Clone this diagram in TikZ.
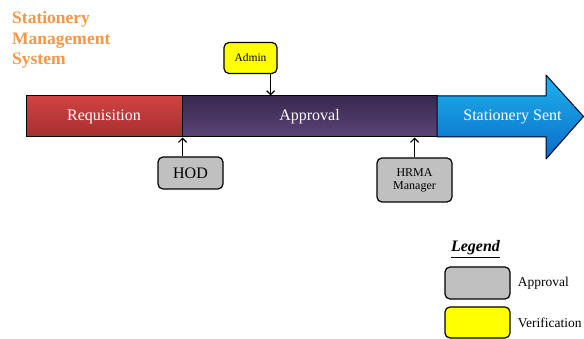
\documentclass[tikz,border=0pt]{standalone}
\usepackage{fontspec}
\setmainfont{Liberation Serif}
\usetikzlibrary{positioning,calc,arrows.meta}
\definecolor{titleorange}{HTML}{F79646}
\definecolor{reqtop}{HTML}{D24242}
\definecolor{reqbot}{HTML}{A52F2F}
\definecolor{apprtop}{HTML}{38284F}
\definecolor{apprbot}{HTML}{5C4478}
\definecolor{senttop}{HTML}{1EB2EE}
\definecolor{sentbot}{HTML}{0A6CC6}
\definecolor{rolegray}{HTML}{C0C0C0}
\definecolor{verifyellow}{HTML}{FFFF00}
\tikzset{
  stagebar/.style={draw=black, line width=1pt, minimum height=41pt, inner sep=0pt,
    text=white, font=\fontsize{16}{18}\selectfont},
  rolebox/.style={draw=black, line width=1.2pt, rounded corners=5pt, fill=rolegray,
    inner sep=0pt, align=center},
  feed/.style={-{Straight Barb[length=4pt,width=8pt,line width=1.2pt]}, line width=1.2pt},
}
\begin{document}
\begin{tikzpicture}[x=1pt,y=-1pt, line join=round]
	\def\ytop{96} \def\ybot{137} \def\ymid{116.5} % bar
	\useasboundingbox (0,0) rectangle (584,339);
	\node[anchor=north west, inner sep=0pt, align=left, text=titleorange,
	  font=\fontsize{17.5}{20.5}\selectfont\bfseries] (title) at (12,11.5) {Stationery\\Management\\System};
	% stages
	\node[stagebar, top color=reqtop, bottom color=reqbot, minimum width=156pt] (req) at (104,\ymid) {Requisition};
	\node[stagebar, top color=apprtop, bottom color=apprbot, minimum width=255pt] (appr) at (309.5,\ymid) {Approval};
	\draw[draw=black!85!blue, line width=1pt, top color=senttop, bottom color=sentbot]
	  (437,\ytop) -- (546,\ytop) -- (546,75) -- (583.5,\ymid) -- (546,159) -- (546,\ybot) -- (437,\ybot) -- cycle;
	\node[text=white, font=\fontsize{16}{18}\selectfont] (sent) at (512.5,\ymid) {Stationery Sent};
	% roles
	\node[rolebox, fill=verifyellow, minimum width=53pt, minimum height=31pt,
	  font=\fontsize{11.5}{13}\selectfont] (admin) at (250.5,58) {Admin};
	\node[rolebox, minimum width=65pt, minimum height=32pt,
	  font=\fontsize{16}{18}\selectfont] (hod) at (190.5,173) {HOD};
	\node[rolebox, minimum width=75pt, minimum height=44pt,
	  font=\fontsize{12}{13}\selectfont] (hrma) at (414.5,180) {HRMA\\Manager};
	\draw[feed] ([xshift=-7pt]admin.south east) -- ([xshift=-7pt]admin.south east |- appr.north);
	\draw[feed] (req.south east |- hod.north) -- (req.south east);
	\draw[feed] (hrma.north) -- (hrma |- appr.south);
	% legend
	\node[font=\fontsize{16}{18}\selectfont\bfseries\itshape, inner sep=0pt, anchor=base] (legend) at (475.5,252) {\underline{Legend}};
	\node[rolebox, minimum width=65pt, minimum height=32pt] (keyappr) at (477.5,283) {};
	\node[rolebox, fill=verifyellow, minimum width=65pt, minimum height=31pt] (keyverif) at (477.5,322.5) {};
	\node[right=7pt of keyappr, inner sep=0pt, font=\fontsize{13.5}{15}\selectfont] (keyapprtext) {Approval};
	\node[right=7pt of keyverif, inner sep=0pt, font=\fontsize{13.5}{15}\selectfont] (keyveriftext) {Verification};
\end{tikzpicture}
\end{document}
